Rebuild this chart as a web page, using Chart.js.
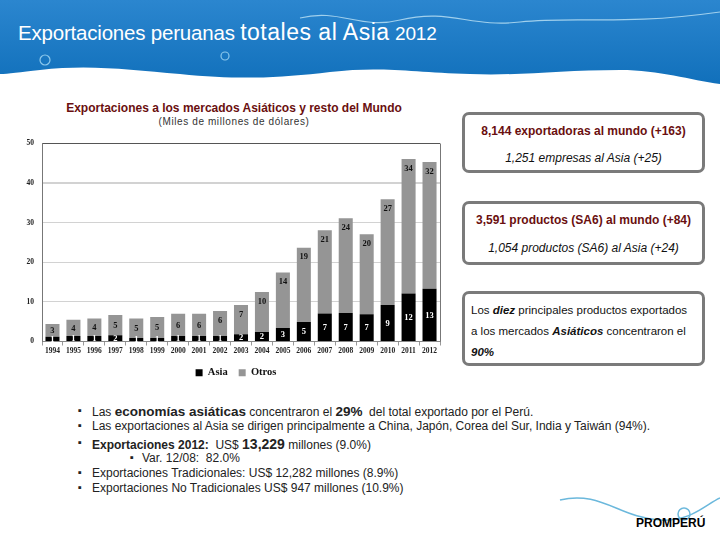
<!DOCTYPE html>
<html>
<head>
<meta charset="utf-8">
<script src="https://cdn.jsdelivr.net/npm/chart.js@4.4.1/dist/chart.umd.min.js"></script>
<style>
  html, body { margin: 0; padding: 0; }
  body { width: 720px; height: 540px; position: relative; overflow: hidden; background: #fff;
         font-family: "Liberation Sans", Arial, sans-serif; }
  #banner { position: absolute; left: 0; top: 0; }
  #title { position: absolute; left: 18px; top: 19px; color: #fff; font-size: 20.5px; white-space: nowrap; letter-spacing: -0.2px; }
  #title .big { font-size: 23px; letter-spacing: 0.5px; }
  #title .yr { font-size: 19px; }
  #chartTitle { position: absolute; left: 0; width: 468px; top: 101px; text-align: center;
                color: #6a0f0f; font-weight: bold; font-size: 12px; }
  #chartSub { position: absolute; left: 0; width: 468px; top: 116px; text-align: center;
              color: #333; font-size: 10px; letter-spacing: 0.6px; }
  #chartBox { position: absolute; left: 0; top: 131px; width: 474px; height: 257px; }
  .box { position: absolute; left: 462px; width: 237px; border: 3px solid #7a7a7a; border-radius: 7px;
         background: #fff; text-align: center; }
  .box .l1 { color: #6a0f0f; font-weight: bold; font-size: 12px; }
  .box .l2 { color: #111; font-style: italic; font-size: 12px; }
  #box3 { text-align: left; font-size: 11.5px; color: #111; line-height: 21px; padding: 6px 0 0 6px; width: 231px; }
  #bullets { position: absolute; left: 78px; top: 404px; font-size: 12px; color: #222; }
  #bullets div { position: relative; padding-left: 14px; height: 15px; white-space: nowrap; }
  #bullets div::before { content: "\25AA"; position: absolute; left: 0; top: 0; font-size: 11px; }
  #bullets div.sub { padding-left: 64px; }
  #bullets div.sub::before { left: 52px; }
  #promperu { position: absolute; left: 636px; top: 516px; font-weight: bold; font-size: 12px; color: #000; }
</style>
</head>
<body>
<svg id="banner" width="720" height="540">
  <defs>
    <linearGradient id="bg" x1="0" y1="0" x2="0" y2="1">
      <stop offset="0" stop-color="#2b86cf"/>
      <stop offset="1" stop-color="#1170bb"/>
    </linearGradient>
  </defs>
  <path d="M0 0 H720 V84 C690 80 660 70 620 70 C560 70 520 76 470 74 C410 72 380 66 330 72 C280 78 240 80 180 74 C130 70 90 64 40 70 C20 72 8 74 0 74 Z" fill="url(#bg)"/>
  <path d="M300 18 C340 8 360 30 400 20 C450 8 470 28 520 22 C580 16 620 26 720 12" stroke="#bfe3f5" stroke-width="1.2" fill="none" opacity="0.8"/>
  <circle cx="225" cy="56" r="4" stroke="#8cc8ec" stroke-width="1.2" fill="none"/>
  <circle cx="45" cy="60" r="5" stroke="#8cc8ec" stroke-width="1.2" fill="none"/>
  <path d="M560 500 C600 490 620 518 660 520 C690 522 705 505 720 498" stroke="#6bb8dc" stroke-width="1.5" fill="none"/>
  <circle cx="684" cy="514" r="6" stroke="#6bb8dc" stroke-width="1.5" fill="none"/>
</svg>
<div id="title">Exportaciones peruanas <span class="big">totales al Asia</span> <span class="yr">2012</span></div>
<div id="chartTitle">Exportaciones a los mercados Asiáticos y resto del Mundo</div>
<div id="chartSub">(Miles de millones de dólares)</div>
<div id="chartBox"><canvas id="myBarChart"></canvas></div>

<div class="box" style="top:112px;height:55px;">
  <div class="l1" style="margin-top:9px;">8,144 exportadoras al mundo (+163)</div>
  <div class="l2" style="margin-top:13px;">1,251 empresas al Asia (+25)</div>
</div>
<div class="box" style="top:201px;height:58px;">
  <div class="l1" style="margin-top:9px;">3,591 productos (SA6) al mundo (+84)</div>
  <div class="l2" style="margin-top:14px;">1,054 productos (SA6) al Asia (+24)</div>
</div>
<div class="box" id="box3" style="top:291px;height:63px;">
  Los <b><i>diez</i></b> principales productos exportados<br>
  a los mercados <b><i>Asiáticos</i></b> concentraron el<br>
  <b><i>90%</i></b>
</div>

<div id="bullets">
  <div>Las <b style="font-size:13.5px">economías asiáticas</b> concentraron el <b style="font-size:13.5px">29%</b>&nbsp; del total exportado por el Perú.</div>
  <div>Las exportaciones al Asia se dirigen principalmente a China, Japón, Corea del Sur, India y Taiwán (94%).</div>
  <div style="margin-top:2px;"><b>Exportaciones 2012:</b>&nbsp; US$ <b style="font-size:14px">13,229</b> millones (9.0%)</div>
  <div class="sub">Var. 12/08:&nbsp; 82.0%</div>
  <div>Exportaciones Tradicionales: US$ 12,282 millones (8.9%)</div>
  <div>Exportaciones No Tradicionales US$ 947 millones (10.9%)</div>
</div>
<div id="promperu">PROMPERÚ</div>

<script>
"use strict";

const years = ['1994', '1995', '1996', '1997', '1998', '1999', '2000', '2001', '2002', '2003',
    '2004', '2005', '2006', '2007', '2008', '2009', '2010', '2011', '2012'];
const asia = [1.2, 1.4, 1.4, 1.6, 0.9, 0.9, 1.4, 1.4, 1.4, 1.8,
    2.4, 3.4, 4.9, 7.1, 7.2, 6.9, 9.2, 12.1, 13.3];
const otros = [3.2, 4.1, 4.4, 5.1, 4.9, 5.3, 5.6, 5.6, 6.3, 7.4,
    10.1, 14.0, 18.8, 21.0, 23.9, 20.2, 26.7, 34.0, 32.0];
const yTicks = [0, 10, 20, 30, 40, 50];

/**
 * Writes the rounded value inside each bar segment
 */
const barLabels = {
    id: 'barLabels',
    afterDatasetsDraw(chart) {
        const ctx = chart.ctx;
        ctx.save();
        ctx.font = 'bold 8.5px "Liberation Serif", serif';
        ctx.textAlign = 'center';
        ctx.textBaseline = 'middle';
        chart.data.datasets.forEach((ds, i) => {
            const meta = chart.getDatasetMeta(i);
            meta.data.forEach((bar, j) => {
                const v = Math.round(ds.data[j]);
                let y;
                if (i === 0) {
                    y = (bar.y + bar.base) / 2;
                    ctx.fillStyle = '#fff';
                } else {
                    const h = bar.base - bar.y;
                    y = h > 24 ? bar.y + 9 : (bar.y + bar.base) / 2;
                    ctx.fillStyle = '#111';
                }
                ctx.fillText(v, bar.x, y + 0.5);
            });
        });
        ctx.restore();
    }
};

/**
 * Draws the frame line on the right side of the plot
 * and nudges the legend a bit to the right, as in the slide
 */
const rightBorder = {
    id: 'rightBorder',
    afterLayout(chart) {
        chart.legend.left += 16;
        chart.legend.right += 16;
    },
    afterDraw(chart) {
        const a = chart.chartArea;
        const ctx = chart.ctx;
        ctx.save();
        ctx.strokeStyle = '#777';
        ctx.lineWidth = 1;
        ctx.beginPath();
        ctx.moveTo(a.right + 0.5, a.top);
        ctx.lineTo(a.right + 0.5, a.bottom);
        ctx.stroke();
        ctx.restore();
    }
};

function renderChart() {
    const barCtx = document.getElementById('myBarChart');
    new Chart(barCtx, {
        type: 'bar',
        data: {
            labels: years,
            datasets: [{
                label: 'Asia',
                data: asia,
                backgroundColor: '#000',
                barPercentage: 0.72,
                categoryPercentage: 0.93
            }, {
                label: 'Otros',
                data: otros,
                backgroundColor: '#959595',
                barPercentage: 0.72,
                categoryPercentage: 0.93
            }]
        },
        options: {
            responsive: true,
            maintainAspectRatio: false,
            animation: false,
            layout: { padding: { top: 7, right: 34, left: 0, bottom: 0 } },
            plugins: {
                legend: {
                    position: 'bottom',
                    labels: {
                        boxWidth: 7, boxHeight: 7, padding: 11,
                        color: '#111',
                        font: { family: '"Liberation Serif", serif', size: 10.5, weight: 'bold' }
                    }
                },
                tooltip: { enabled: false }
            },
            scales: {
                x: {
                    stacked: true,
                    grid: { drawOnChartArea: false, offset: true, tickLength: 4, color: '#999' },
                    border: { color: '#888' },
                    ticks: {
                        color: '#222', padding: 1, maxRotation: 0, autoSkip: false,
                        font: { family: '"Liberation Serif", serif', size: 7.5, weight: 'bold' }
                    }
                },
                y: {
                    stacked: true,
                    min: 0, max: 50,
                    afterFit(s) { s.width = 42; },
                    afterBuildTicks(s) { s.ticks = yTicks.map(v => ({ value: v })); },
                    grid: {
                        color: c => c.tick && c.tick.value === 50 ? '#555' : '#d2d2d2',
                        lineWidth: c => c.tick && c.tick.value === 40 ? 2 : 1,
                        drawTicks: false
                    },
                    border: { color: '#777' },
                    ticks: {
                        color: '#222', padding: 8,
                        font: { family: '"Liberation Serif", serif', size: 7.5, weight: 'bold' }
                    }
                }
            }
        },
        plugins: [barLabels, rightBorder]
    });
}

renderChart();
</script>
</body>
</html>
